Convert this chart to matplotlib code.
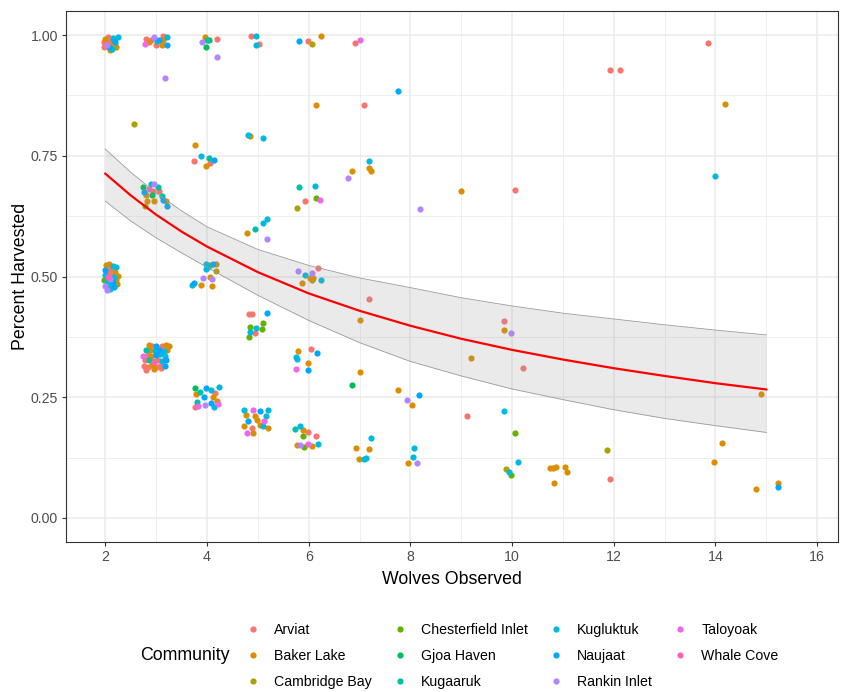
import matplotlib
matplotlib.use("Agg")
import matplotlib.pyplot as plt
from matplotlib.lines import Line2D

plt.rcParams["font.family"] = ["Liberation Sans", "DejaVu Sans"]

communities = ["Arviat", "Baker Lake", "Cambridge Bay", "Chesterfield Inlet",
               "Gjoa Haven", "Kugaaruk", "Kugluktuk", "Naujaat",
               "Rankin Inlet", "Taloyoak", "Whale Cove"]
colors = ["#F8766D", "#DB8E00", "#AEA200", "#64B200", "#00BD5C", "#00C1A7",
          "#00BADE", "#00A6FF", "#B385FF", "#EF67EB", "#FF63B6"]

# (wolves observed, percent harvested) for each community, jittered as shown
arviat = [(2.0, 0.985), (2.05, 0.99), (1.98, 0.975), (2.12, 0.99), (2.06, 0.996),
          (2.2, 0.98), (1.97, 0.986), (2.80, 0.992), (2.998, 0.980), (3.13, 0.999),
          (2.9, 0.99), (4.2, 0.992), (4.866, 0.999), (5.02, 0.982), (5.98, 0.987),
          (3.75, 0.739), (4.06, 0.735), (5.93, 0.657), (6.92, 0.984), (7.08, 0.855),
          (10.05, 0.679), (11.93, 0.927), (12.12, 0.927), (2.945, 0.678), (3.063, 0.677),
          (4.16, 0.258), (3.77, 0.229), (2.06, 0.512), (2.12, 0.515), (2.1, 0.505),
          (6.18, 0.517), (4.82, 0.422), (4.88, 0.422), (4.95, 0.383), (2.92, 0.355),
          (3.12, 0.356), (2.83, 0.338), (2.78, 0.326), (3.03, 0.328), (2.76, 0.315),
          (2.84, 0.313), (3.0, 0.312), (3.08, 0.315), (2.8, 0.307), (3.1, 0.31),
          (4.88, 0.187), (5.98, 0.178), (6.14, 0.169), (6.04, 0.349), (7.18, 0.453),
          (9.11, 0.212), (9.84, 0.407), (10.21, 0.310), (11.93, 0.081), (13.86, 0.984)]
baker_lake = [(2.1, 0.98), (2.0, 0.992), (2.1, 0.97), (2.866, 0.985), (3.14, 0.989),
              (3.11, 0.980), (3.955, 0.997), (6.24, 0.999), (6.14, 0.855), (4.84, 0.791),
              (3.765, 0.773), (3.98, 0.728), (6.85, 0.719), (7.18, 0.724), (7.22, 0.719),
              (8.99, 0.677), (2.80, 0.668), (2.827, 0.657), (2.958, 0.656), (3.194, 0.656),
              (4.17, 0.525), (4.05, 0.500), (3.88, 0.483), (4.10, 0.480), (2.02, 0.523),
              (2.08, 0.526), (2.20, 0.510), (2.24, 0.502), (2.21, 0.492), (5.86, 0.486),
              (6.03, 0.496), (6.06, 0.493), (6.09, 0.497), (4.78, 0.590), (2.85, 0.358),
              (3.2, 0.358), (3.25, 0.355), (2.88, 0.348), (3.22, 0.347), (2.9, 0.335),
              (2.95, 0.325), (2.92, 0.316), (2.95, 0.308), (3.79, 0.256), (4.12, 0.250),
              (4.19, 0.242), (4.76, 0.214), (4.95, 0.212), (4.98, 0.202), (4.73, 0.190),
              (5.04, 0.192), (5.19, 0.187), (4.90, 0.176), (5.88, 0.181), (5.77, 0.151),
              (6.06, 0.149), (5.785, 0.345), (5.98, 0.320), (7.76, 0.265), (8.03, 0.233),
              (6.94, 0.145), (7.18, 0.143), (6.99, 0.121), (7.96, 0.114), (7.01, 0.409),
              (7.01, 0.302), (9.84, 0.389), (9.20, 0.332), (10.75, 0.103), (10.80, 0.104),
              (10.86, 0.106), (11.05, 0.106), (11.09, 0.096), (10.83, 0.073), (14.12, 0.156),
              (13.98, 0.116), (14.90, 0.257), (14.80, 0.059), (15.23, 0.072), (14.18, 0.857)]
cambridge_bay = [(2.22, 0.975), (6.07, 0.982), (2.565, 0.815), (5.77, 0.641), (2.78, 0.647),
                 (4.05, 0.523), (4.18, 0.511), (9.88, 0.101), (11.86, 0.140), (2.23, 0.485)]
chesterfield_inlet = [(6.14, 0.662), (5.11, 0.404), (5.08, 0.392), (4.85, 0.396), (4.83, 0.374),
                      (5.88, 0.169), (5.91, 0.146), (10.05, 0.175), (9.98, 0.088), (1.97, 0.492)]
gjoa_haven = [(2.18, 0.99), (4.04, 0.989), (3.98, 0.976), (2.735, 0.686), (2.91, 0.668),
              (3.765, 0.2695), (6.85, 0.276)]
kugaaruk = [(4.0, 0.99), (4.03, 0.746), (5.81, 0.685), (3.03, 0.685), (3.11, 0.666),
            (4.01, 0.520), (4.95, 0.599), (2.06, 0.478), (2.80, 0.347), (2.86, 0.327),
            (3.86, 0.261), (3.80, 0.240), (5.73, 0.185)]
kugluktuk = [(2.15, 0.995), (2.14, 0.972), (2.25, 0.996), (3.01, 0.987), (3.22, 0.996),
             (4.97, 0.999), (4.97, 0.979), (4.81, 0.794), (5.10, 0.786), (3.88, 0.749),
             (6.12, 0.687), (7.18, 0.739), (2.893, 0.692), (3.975, 0.526), (3.99, 0.516),
             (3.71, 0.483), (2.15, 0.521), (2.22, 0.519), (2.0, 0.503), (2.18, 0.500),
             (2.03, 0.490), (2.12, 0.482), (2.1, 0.474), (5.93, 0.503), (6.24, 0.493),
             (5.10, 0.610), (5.18, 0.619), (4.97, 0.394), (4.85, 0.386), (2.97, 0.346),
             (3.15, 0.345), (3.08, 0.339), (3.18, 0.336), (3.12, 0.324), (4.07, 0.264),
             (4.24, 0.272), (4.14, 0.229), (4.73, 0.2226), (5.19, 0.223), (5.16, 0.210),
             (5.10, 0.190), (5.82, 0.190), (6.19, 0.153), (5.75, 0.334), (5.77, 0.330),
             (7.22, 0.166), (7.08, 0.121), (7.12, 0.124), (8.07, 0.145), (8.05, 0.126),
             (9.84, 0.222), (10.125, 0.116), (9.93, 0.096), (14.0, 0.709)]
naujaat = [(2.2, 0.985), (2.08, 0.975), (3.21, 0.980), (3.05, 0.99), (5.81, 0.987),
           (4.14, 0.741), (7.76, 0.885), (2.76, 0.675), (3.13, 0.659), (3.207, 0.647),
           (4.11, 0.525), (3.74, 0.486), (1.99, 0.514), (2.15, 0.488), (2.18, 0.479),
           (5.18, 0.424), (3.0, 0.357), (3.05, 0.348), (3.0, 0.337), (3.2, 0.327),
           (3.17, 0.314), (3.99, 0.27), (3.94, 0.250), (4.07, 0.238), (5.04, 0.221),
           (4.80, 0.201), (6.17, 0.342), (5.98, 0.307), (8.17, 0.255), (15.23, 0.064)]
rankin_inlet = [(2.03, 0.98), (2.965, 0.996), (3.18, 0.912), (3.91, 0.985), (4.2, 0.954),
                (6.78, 0.704), (8.19, 0.639), (2.965, 0.692), (3.92, 0.497), (4.10, 0.495),
                (2.09, 0.494), (2.0, 0.481), (2.04, 0.472), (5.785, 0.511), (6.07, 0.508),
                (5.18, 0.577), (3.96, 0.233), (5.83, 0.150), (7.93, 0.245), (8.13, 0.114),
                (9.98, 0.382)]
taloyoak = [(2.775, 0.982), (7.01, 0.989), (6.22, 0.659), (2.75, 0.336), (3.82, 0.231),
            (4.22, 0.235), (4.90, 0.224), (5.12, 0.201), (4.78, 0.176), (5.99, 0.153),
            (5.75, 0.309)]
whale_cove = [(2.05, 0.500), (2.86, 0.682), (2.96, 0.322)]

series = [arviat, baker_lake, cambridge_bay, chesterfield_inlet, gjoa_haven, kugaaruk,
          kugluktuk, naujaat, rankin_inlet, taloyoak, whale_cove]

# fitted curve and 95% band
fit_x = [2, 2.5, 3, 3.5, 4, 5, 6, 7, 8, 9, 10, 11, 12, 13, 14, 15]
fit_y = [0.713, 0.668, 0.628, 0.593, 0.562, 0.509, 0.465, 0.429, 0.398, 0.371,
         0.348, 0.328, 0.310, 0.294, 0.279, 0.266]
fit_hi = [0.764, 0.716, 0.673, 0.636, 0.603, 0.556, 0.523, 0.497, 0.477, 0.456,
          0.439, 0.424, 0.412, 0.400, 0.389, 0.379]
fit_lo = [0.656, 0.615, 0.580, 0.549, 0.519, 0.461, 0.409, 0.363, 0.324, 0.294,
          0.267, 0.245, 0.224, 0.206, 0.191, 0.177]

fig = plt.figure(figsize=(8.44, 6.92), dpi=100)
ax = fig.add_axes([66/844, 1 - 542/692, (838 - 66)/844, (542 - 11)/692])

for pts, c in zip(series, colors):
    ax.scatter([p[0] for p in pts], [p[1] for p in pts], s=20, color=c,
               linewidths=0, zorder=3)

ax.fill_between(fit_x, fit_lo, fit_hi, color="#999999", alpha=0.2, linewidth=0, zorder=4)
ax.plot(fit_x, fit_hi, color="#9a9a9a", lw=0.6, zorder=4)
ax.plot(fit_x, fit_lo, color="#9a9a9a", lw=0.6, zorder=4)
ax.plot(fit_x, fit_y, color="#FF0000", lw=1.6, zorder=5)

ax.set_xlim(1.227, 16.41)
ax.set_ylim(-0.05, 1.05)
ax.set_xticks([2, 4, 6, 8, 10, 12, 14, 16])
ax.set_yticks([0, 0.25, 0.5, 0.75, 1.0])
ax.set_yticklabels(["0.00", "0.25", "0.50", "0.75", "1.00"])
ax.set_xticks([3, 5, 7, 9, 11, 13, 15], minor=True)
ax.set_yticks([0.125, 0.375, 0.625, 0.875], minor=True)
ax.grid(True, which="major", color="#EBEBEB", lw=1.1, zorder=0)
ax.grid(True, which="minor", color="#EBEBEB", lw=0.55, zorder=0)
ax.set_axisbelow(True)
ax.tick_params(which="major", length=3.2, width=0.8, color="#333333",
               labelsize=10.2, labelcolor="#4D4D4D", pad=2.5)
ax.tick_params(which="minor", length=0)
for sp in ax.spines.values():
    sp.set_color("#333333")
    sp.set_linewidth(0.8)

ax.set_xlabel("Wolves Observed", fontsize=12.8, labelpad=5)
ax.set_ylabel("Percent Harvested", fontsize=12.8, labelpad=1)

handles = [Line2D([], [], ls="", marker="o", ms=4.5, color=c, mew=0) for c in colors]
fig.legend(handles, communities, ncol=4, loc="center left",
           bbox_to_anchor=(246/844, 1 - 656/692), frameon=False, fontsize=10.2,
           handlelength=1.0, handletextpad=0.98, columnspacing=1.5,
           labelspacing=0.85, borderpad=0, borderaxespad=0)
fig.text(140/844, 1 - 656/692, "Community", fontsize=12.8, va="center", ha="left")

fig.savefig("out.png", dpi=100)
